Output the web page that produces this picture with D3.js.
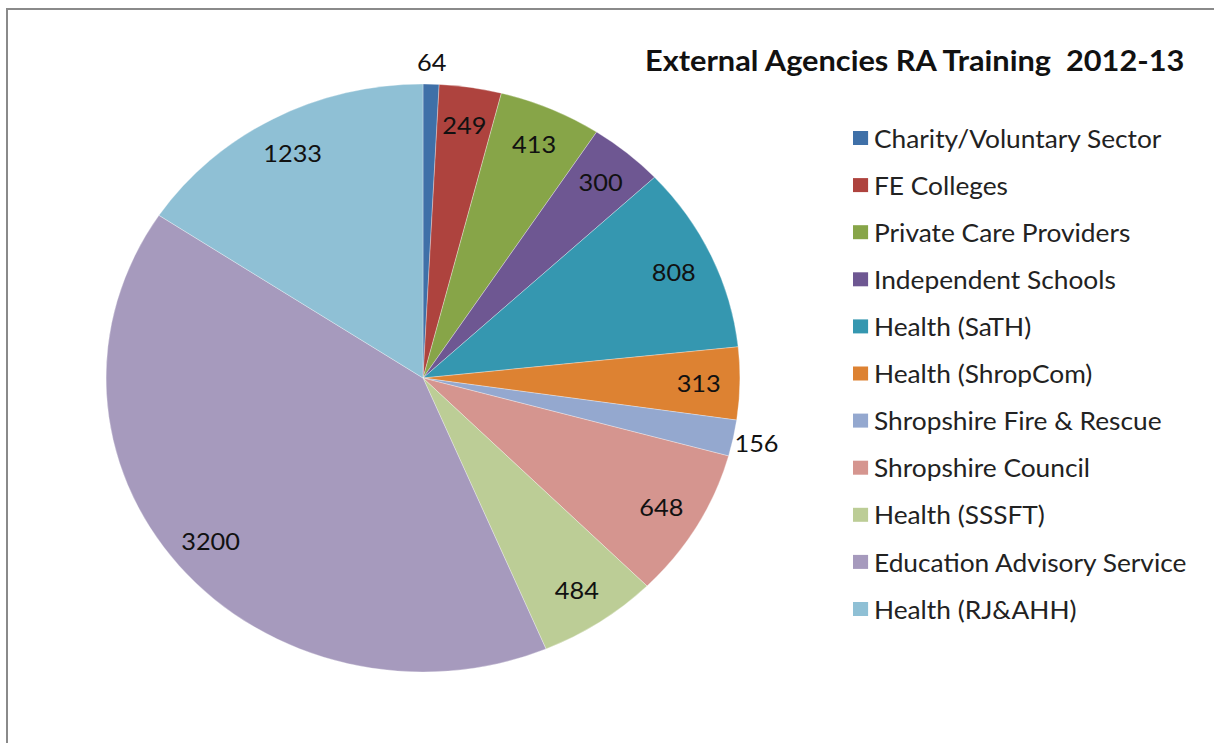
<!DOCTYPE html>
<html>
<head>
<meta charset="utf-8">
<script src="https://cdn.jsdelivr.net/npm/d3@7"></script>
<style>
  html, body { margin: 0; padding: 0; background: #ffffff; }
  #chart { width: 1214px; height: 743px; overflow: hidden; }
</style>
</head>
<body>
<div id="chart"></div>
<script>
// External Agencies RA Training 2012-13 - pie chart

const categories = [
    "Charity/Voluntary Sector",
    "FE Colleges",
    "Private Care Providers",
    "Independent Schools",
    "Health (SaTH)",
    "Health (ShropCom)",
    "Shropshire Fire & Rescue",
    "Shropshire Council",
    "Health (SSSFT)",
    "Education Advisory Service",
    "Health (RJ&AHH)"
];
const values = [64, 249, 413, 300, 808, 313, 156, 648, 484, 3200, 1233];
const colors = ["#3f70a8", "#ae433e", "#87a548", "#6e5792", "#3597b0", "#dd8232",
                "#94a8cf", "#d5958f", "#bccd96", "#a69abd", "#8fc0d5"];
const title = "External Agencies RA Training  2012-13";

document.addEventListener('DOMContentLoaded', function() {
    drawPie();
});

function drawPie() {
    const width = 1214, height = 743;
    // the original picture is a little wider than tall, so stretch horizontally
    const sx = 1.078;
    const cx = 423 / sx, cy = 378;
    const radius = 294;

    const svg = d3.select("#chart")
        .append("svg")
        .attr("width", width)
        .attr("height", height);

    // chart area frame
    svg.append("rect")
        .attr("x", 7)
        .attr("y", 9)
        .attr("width", 1250)
        .attr("height", 800)
        .attr("fill", "none")
        .attr("stroke", "#8a8a8a")
        .attr("stroke-width", 2);

    const root = svg.append("g")
        .attr("transform", `scale(${sx},1)`);

    const pie = d3.pie().sort(null).value(d => d.value);
    const data = categories.map((c, i) => ({ name: c, value: values[i], color: colors[i] }));
    const arcs = pie(data);
    const total = d3.sum(values);

    const arc = d3.arc().innerRadius(0).outerRadius(radius);
    const labelArc = d3.arc().innerRadius(radius * 0.87).outerRadius(radius * 0.87);
    const outerArc = d3.arc().innerRadius(radius * 1.075).outerRadius(radius * 1.075);

    const g = root.append("g")
        .attr("transform", `translate(${cx},${cy})`);

    g.selectAll("path.slice")
        .data(arcs)
        .enter()
        .append("path")
        .attr("class", "slice")
        .attr("d", arc)
        .attr("fill", d => d.data.color)
        .attr("stroke", "#ffffff")
        .attr("stroke-opacity", 0.5)
        .attr("stroke-width", 0.6);

    // data labels: inside for big slices, just outside for thin ones
    g.selectAll("text.lbl")
        .data(arcs)
        .enter()
        .append("text")
        .attr("class", "lbl")
        .attr("transform", d => {
            const p = (d.value / total < 0.025 ? outerArc : labelArc).centroid(d);
            return `translate(${p[0]},${p[1]})`;
        })
        .attr("text-anchor", "middle")
        .attr("dominant-baseline", "central")
        .attr("font-family", "Lato, 'Open Sans', sans-serif")
        .attr("font-size", "23.5px")
        .attr("fill", "#111")
        .text(d => d.value);

    // title
    root.append("text")
        .attr("x", 645 / sx)
        .attr("y", 60)
        .attr("dominant-baseline", "central")
        .attr("font-family", "Lato, 'Open Sans', sans-serif")
        .attr("font-weight", "bold")
        .attr("font-size", "28.5px")
        .attr("fill", "#111")
        .style("white-space", "pre")
        .text(title);

    // legend
    const legend = root.append("g")
        .attr("transform", `translate(${853 / sx},138)`);

    const rows = legend.selectAll("g.row")
        .data(data)
        .enter()
        .append("g")
        .attr("class", "row")
        .attr("transform", (d, i) => `translate(0,${i * 47.1})`);

    rows.append("rect")
        .attr("x", 0)
        .attr("y", -7)
        .attr("width", 14)
        .attr("height", 14)
        .attr("fill", d => d.color);

    rows.append("text")
        .attr("x", 21 / sx)
        .attr("y", 0)
        .attr("dominant-baseline", "central")
        .attr("font-family", "Lato, 'Open Sans', sans-serif")
        .attr("font-size", "24.4px")
        .attr("fill", "#222")
        .text(d => d.name);
}
</script>
</body>
</html>
